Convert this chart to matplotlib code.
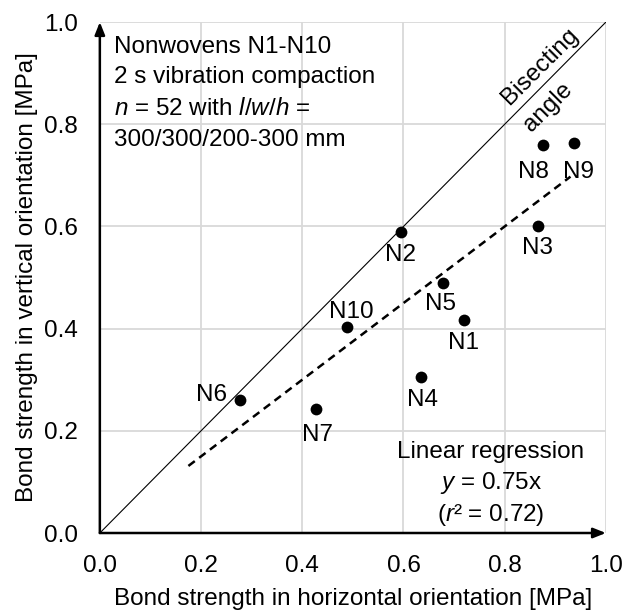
import matplotlib
matplotlib.use("Agg")
import matplotlib.pyplot as plt
import numpy as np

plt.rcParams['font.family'] = ['Liberation Sans', 'DejaVu Sans']
plt.rcParams['mathtext.fontset'] = 'custom'
plt.rcParams['mathtext.rm'] = 'Liberation Sans'
plt.rcParams['mathtext.it'] = 'Liberation Sans:italic'

# Data
names = ["N1", "N2", "N3", "N4", "N5", "N6", "N7", "N8", "N9", "N10"]
horizontal = [0.719, 0.596, 0.866, 0.634, 0.679, 0.277, 0.428, 0.876, 0.937, 0.489]
vertical = [0.416, 0.590, 0.600, 0.305, 0.490, 0.260, 0.243, 0.760, 0.763, 0.403]
label_pos = {
    "N1": (0.718, 0.371), "N2": (0.595, 0.544), "N3": (0.865, 0.557),
    "N4": (0.638, 0.260), "N5": (0.674, 0.448), "N6": (0.220, 0.270),
    "N7": (0.431, 0.192), "N8": (0.856, 0.707), "N9": (0.945, 0.707),
    "N10": (0.496, 0.433),
}
slope = 0.75
reg_x = [0.175, 0.93]
ticks = [0.0, 0.2, 0.4, 0.6, 0.8, 1.0]

fig = plt.figure(figsize=(6.24, 6.13), dpi=100)
ax = fig.add_axes([0.160, 0.1305, 0.811, 0.8335])
ax.set_xlim(0, 1)
ax.set_ylim(0, 1)

fs = 17.5
grid_c = '#d9d9d9'
for t in ticks[1:]:
    ax.axvline(t, color=grid_c, lw=1.3, zorder=0)
    ax.axhline(t, color=grid_c, lw=1.3, zorder=0)

for s in ax.spines.values():
    s.set_visible(False)

ax.set_xticks(ticks)
ax.set_yticks(ticks)
ax.set_xticklabels([f"{t:.1f}" for t in ticks], fontsize=fs)
ax.set_yticklabels([f"{t:.1f}" for t in ticks], fontsize=fs)
ax.tick_params(length=0, pad=16)

# axes arrows
ax.annotate("", xy=(0, 1.0), xytext=(0, 0), xycoords='axes fraction',
            arrowprops=dict(arrowstyle='-|>,head_length=0.75,head_width=0.3',
                            color='black', lw=1.8, shrinkA=0, shrinkB=0),
            annotation_clip=False)
ax.annotate("", xy=(1.0, 0), xytext=(0, 0), xycoords='axes fraction',
            arrowprops=dict(arrowstyle='-|>,head_length=0.75,head_width=0.3',
                            color='black', lw=1.8, shrinkA=0, shrinkB=0),
            annotation_clip=False)

# bisecting line
ax.plot([0, 1], [0, 1], color='black', lw=0.8, zorder=2)
# regression
rx = np.array(reg_x)
ax.plot(rx, slope * rx, color='black', lw=1.8, ls=(0, (3.2, 2.2)), zorder=2)

ax.scatter(horizontal, vertical, s=72, color='black', zorder=3, linewidths=0)
for n in names:
    lx, ly = label_pos[n]
    ax.text(lx, ly, n, fontsize=fs, ha='center', va='center')

ax.set_xlabel("Bond strength in horizontal orientation [MPa]", fontsize=fs, labelpad=8)
ax.set_ylabel("Bond strength in vertical orientation [MPa]", fontsize=fs, labelpad=4)

info = ["Nonwovens N1-N10", "2 s vibration compaction",
        "$n$ = 52 with $l/w/h$ =", "300/300/200-300 mm"]
info_y = [0.951, 0.892, 0.830, 0.769]
for t, y in zip(info, info_y):
    ax.text(0.028, y, t, fontsize=fs, ha='left', va='center')

ax.text(0.87, 0.913, "Bisecting", fontsize=fs, ha='center', va='center',
        rotation=45, rotation_mode='anchor')
ax.text(0.885, 0.834, "angle", fontsize=fs, ha='center', va='center',
        rotation=45, rotation_mode='anchor')

ax.text(0.773, 0.159, "Linear regression", fontsize=fs, ha='center', va='center')
ax.text(0.773, 0.097, "$y$ = 0.75x", fontsize=fs, ha='center', va='center')
ax.text(0.773, 0.035, "($r$² = 0.72)", fontsize=fs, ha='center', va='center')

fig.savefig("out.png", dpi=100)
